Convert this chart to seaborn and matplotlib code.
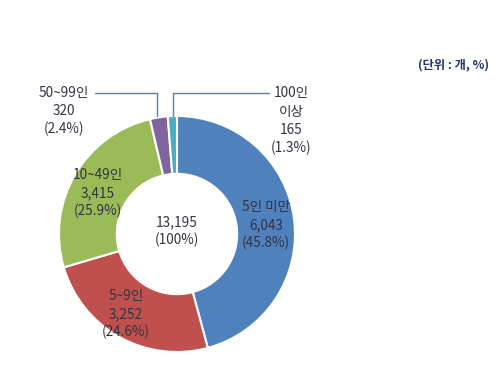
import matplotlib
matplotlib.use("Agg")
import matplotlib.pyplot as plt
import seaborn as sns

categories = ["5인 미만", "5~9인", "10~49인", "50~99인", "100인\n이상"]
counts = [6043, 3252, 3415, 320, 165]
count_labels = ["6,043", "3,252", "3,415", "320", "165"]
pct_labels = ["(45.8%)", "(24.6%)", "(25.9%)", "(2.4%)", "(1.3%)"]
total_label = "13,195"
total_pct = "(100%)"
unit_label = "(단위 : 개, %)"
colors = ["#4F81BD", "#C0504D", "#9BBB59", "#8064A2", "#4BACC6"]

sns.set_theme(style="white")
plt.rcParams['font.family'] = ['Noto Sans CJK KR', 'DejaVu Sans']

H = 382
fig = plt.figure(figsize=(5.0, 3.82), dpi=100)
ax = fig.add_axes([0, 0, 1, 1])

cx, cy, R = 177, H - 234, 118
ax.pie(counts, colors=colors, startangle=90, counterclock=False,
       center=(cx, cy), radius=R,
       wedgeprops=dict(width=R * 0.49, edgecolor="white", linewidth=1.5))
ax.set_xlim(0, 500)
ax.set_ylim(0, H)
ax.set_aspect("equal")
ax.axis("off")

tc = "#333344"
fs = 9.8

def lab(x, y, lines):
    for i, s in enumerate(lines):
        ax.text(x, H - (y + i * 18), s, ha="center", va="center", fontsize=fs, color=tc)

lab(266, 207, [categories[0], count_labels[0], pct_labels[0]])
lab(126, 296, [categories[1], count_labels[1], pct_labels[1]])
lab(98, 175, [categories[2], count_labels[2], pct_labels[2]])
lab(64, 93, [categories[3], count_labels[3], pct_labels[3]])
ax.text(291, H - 93, "100인", ha="center", va="center", fontsize=fs, color=tc)
ax.text(291, H - 112, "이상", ha="center", va="center", fontsize=fs, color=tc)
ax.text(291, H - 130, count_labels[4], ha="center", va="center", fontsize=fs, color=tc)
ax.text(291, H - 148, pct_labels[4], ha="center", va="center", fontsize=fs, color=tc)

ax.text(cx, H - 222, total_label, ha="center", va="center", fontsize=fs, color=tc)
ax.text(cx, H - 240, total_pct, ha="center", va="center", fontsize=fs, color=tc)

ax.text(453, H - 65, unit_label, ha="center", va="center", fontsize=8.8,
        color="#1F3864", fontweight="bold")

lc = "#4F81BD"
ax.plot([95, 157, 157], [H - 93, H - 93, H - 116], color=lc, lw=1)
ax.plot([269, 173, 173], [H - 93, H - 93, H - 116], color=lc, lw=1)

fig.savefig("out.png", dpi=100)
